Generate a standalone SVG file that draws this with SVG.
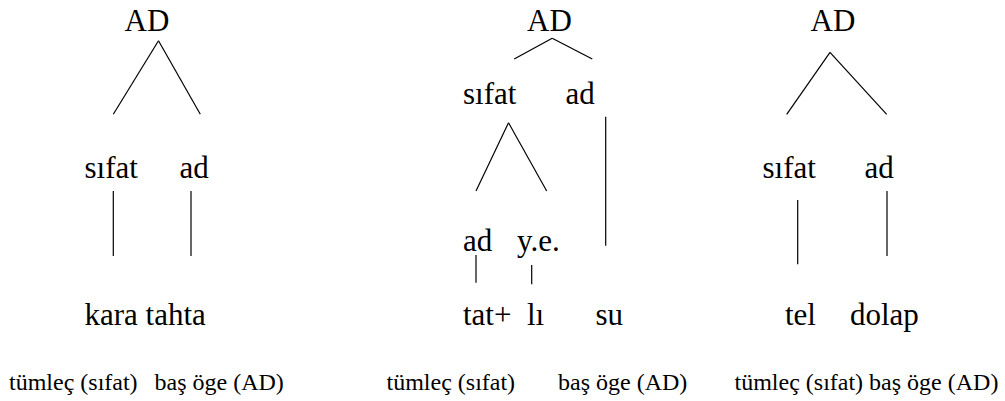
<svg xmlns="http://www.w3.org/2000/svg" width="1005" height="401" viewBox="0 0 1005 401">
<rect width="1005" height="401" fill="#fff"/>
<g id="connectors" stroke="#000" stroke-width="1.2">
<line x1="158.5" y1="40.7" x2="113.3" y2="114.3"/>
<line x1="158.5" y1="40.7" x2="200.3" y2="114.3"/>
<line x1="113.3" y1="191" x2="113.3" y2="256"/>
<line x1="191" y1="191" x2="191" y2="256"/>
<line x1="552.2" y1="38.3" x2="514.2" y2="59"/>
<line x1="552.2" y1="38.3" x2="592.3" y2="59"/>
<line x1="508.5" y1="122.7" x2="476" y2="191"/>
<line x1="508.5" y1="122.7" x2="546.7" y2="191"/>
<line x1="605.7" y1="116.7" x2="605.7" y2="245.7"/>
<line x1="476" y1="255" x2="476" y2="282.7"/>
<line x1="531.7" y1="265" x2="531.7" y2="284.3"/>
<line x1="830" y1="52.3" x2="786.7" y2="114.3"/>
<line x1="830" y1="52.3" x2="886.7" y2="114.3"/>
<line x1="797.7" y1="200" x2="797.7" y2="264.3"/>
<line x1="887" y1="191" x2="887" y2="256"/>
</g>
<g id="tree1">
<text style="font-family:'Liberation Serif';font-size:31px" x="124.5" y="30.7">AD</text>
<text style="font-family:'Liberation Serif';font-size:31px" x="84.5" y="177.7">sıfat</text>
<text style="font-family:'Liberation Serif';font-size:31px" x="179.5" y="177.7">ad</text>
<text style="font-family:'Liberation Serif';font-size:31px" x="84.5" y="325">kara tahta</text>
<text style="font-family:'Liberation Serif';font-size:24px" x="9" y="390">tümleç (sıfat)</text>
<text style="font-family:'Liberation Serif';font-size:24px" x="154.5" y="390">baş öge (AD)</text>
</g>
<g id="tree2">
<text style="font-family:'Liberation Serif';font-size:31px" x="527" y="30.7">AD</text>
<text style="font-family:'Liberation Serif';font-size:31px" x="463" y="104">sıfat</text>
<text style="font-family:'Liberation Serif';font-size:31px" x="565.5" y="104">ad</text>
<text style="font-family:'Liberation Serif';font-size:31px" x="463" y="250.7">ad</text>
<text style="font-family:'Liberation Serif';font-size:31px" x="517" y="250.7">y.e.</text>
<text style="font-family:'Liberation Serif';font-size:31px" x="463" y="325">tat+</text>
<text style="font-family:'Liberation Serif';font-size:31px" x="527" y="325">lı</text>
<text style="font-family:'Liberation Serif';font-size:31px" x="595.5" y="325">su</text>
<text style="font-family:'Liberation Serif';font-size:24px" x="386.5" y="390">tümleç (sıfat)</text>
<text style="font-family:'Liberation Serif';font-size:24px" x="558" y="390">baş öge (AD)</text>
</g>
<g id="tree3">
<text style="font-family:'Liberation Serif';font-size:31px" x="810.5" y="30.7">AD</text>
<text style="font-family:'Liberation Serif';font-size:31px" x="762.5" y="177.7">sıfat</text>
<text style="font-family:'Liberation Serif';font-size:31px" x="864.5" y="177.7">ad</text>
<text style="font-family:'Liberation Serif';font-size:31px" x="785" y="325">tel</text>
<text style="font-family:'Liberation Serif';font-size:31px" x="850" y="325">dolap</text>
<text style="font-family:'Liberation Serif';font-size:24px" x="734.5" y="390">tümleç (sıfat) baş öge (AD)</text>
</g>
</svg>
